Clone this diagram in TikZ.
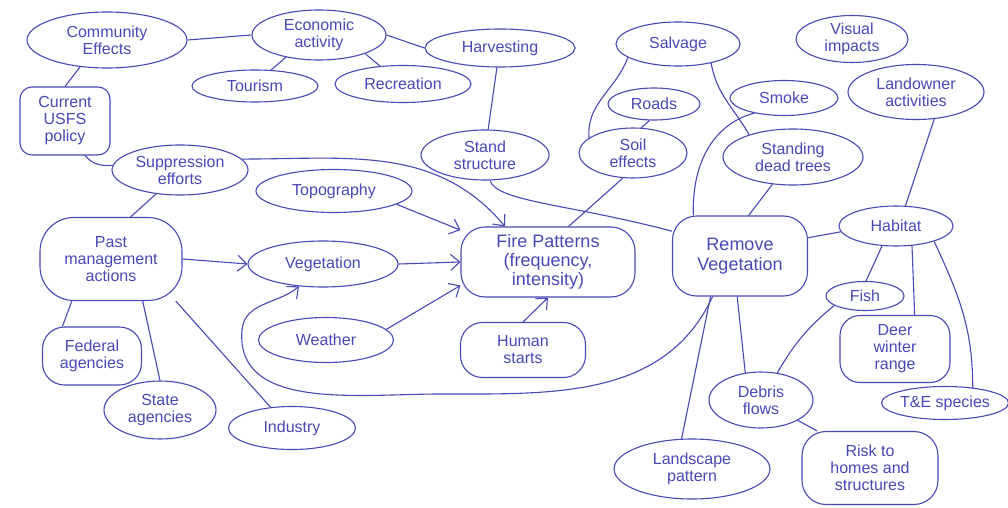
\documentclass[tikz,border=0pt]{standalone}
\usepackage{fontspec}
\setmainfont{Liberation Sans}
\usepackage{tikz}
\usepackage{xcolor}
\usetikzlibrary{positioning}
\usetikzlibrary{shapes.geometric,arrows.meta}

\definecolor{ink}{RGB}{72,72,182}

\tikzset{
    oval/.style={ellipse, draw=ink, line width=1.1pt, inner sep=0pt, align=center,
        text=ink, font=\fontsize{16}{17}\selectfont},
    blob/.style={rectangle, rounded corners=18pt, draw=ink, line width=1.1pt, inner sep=0pt,
        align=center, text=ink, font=\fontsize{16}{17}\selectfont},
    link/.style={draw=ink, line width=1.1pt},
    flow/.style={link, -{Straight Barb[length=9pt,width=16pt]}}
}

\begin{document}
\begin{tikzpicture}[x=1pt,y=-1pt]
        \useasboundingbox[fill=white] (0,0) rectangle (1008,508);

        \node[oval, minimum width=160, minimum height=56] (community) at (107,40) {Community\\Effects};
        \node[oval, minimum width=134, minimum height=50] (economic) at (319,35) {Economic\\activity};
        \node[oval, minimum width=150, minimum height=38] (harvesting) at (500,48) {Harvesting};
        \node[oval, minimum width=126, minimum height=32] (tourism) at (255,86) {Tourism};
        \node[oval, minimum width=136, minimum height=37] (recreation) at (403,84) {Recreation};
        \node[blob, rounded corners=12pt, minimum width=90, minimum height=68] (usfs) at (65,121) {Current\\USFS\\policy};
        \node[oval, minimum width=136, minimum height=50] (suppression) at (180,170) {Suppression\\efforts};
        \node[oval, minimum width=156, minimum height=43] (topography) at (334,191) {Topography};
        \node[oval, minimum width=128, minimum height=50] (stand) at (485,155) {Stand\\structure};
        \node[oval, minimum width=124, minimum height=44] (salvage) at (678,44) {Salvage};
        \node[oval, minimum width=92, minimum height=32] (roads) at (654,104) {Roads};
        \node[oval, minimum width=108, minimum height=50] (soil) at (633,153) {Soil\\effects};
        \node[oval, minimum width=108, minimum height=35] (smoke) at (784,98) {Smoke};
        \node[oval, minimum width=140, minimum height=56] (standing) at (793,157) {Standing\\dead trees};
        \node[oval, minimum width=112, minimum height=47] (visual) at (852,39) {Visual\\impacts};
        \node[oval, minimum width=136, minimum height=55] (landowner) at (916,92) {Landowner\\activities};

        \node[blob, rounded corners=24pt, minimum width=174, minimum height=70, font=\fontsize{18}{19}\selectfont] (fire) at (548,262) {Fire Patterns\\(frequency,\\intensity)};
        \node[blob, rounded corners=24pt, minimum width=135, minimum height=80, font=\fontsize{18}{20}\selectfont] (remove) at (740,256) {Remove\\Vegetation};
        \node[oval, minimum width=114, minimum height=40] (habitat) at (896,226) {Habitat};
        \node[oval, minimum width=78, minimum height=29] (fish) at (865,296) {Fish};
        \node[blob, rounded corners=20pt, minimum width=110, minimum height=67] (deer) at (895,349) {Deer\\winter\\range};
        \node[oval, minimum width=126, minimum height=33] (te) at (945,403) {T\&E species};
        \node[oval, minimum width=104, minimum height=56] (debris) at (761,400) {Debris\\flows};
        \node[blob, rounded corners=24pt, minimum width=136, minimum height=73] (risk) at (870,468) {Risk to\\homes and\\structures};
        \node[oval, minimum width=156, minimum height=60] (landscape) at (692,469) {Landscape\\pattern};

        \node[blob, rounded corners=34pt, minimum width=142, minimum height=83] (past) at (111,259) {Past\\management\\actions};
        \node[oval, minimum width=150, minimum height=46] (vegetation) at (323,264) {Vegetation};
        \node[oval, minimum width=135, minimum height=45] (weather) at (326,340) {Weather};
        \node[blob, rounded corners=22pt, minimum width=125, minimum height=55] (human) at (523,350) {Human\\starts};
        \node[blob, rounded corners=22pt, minimum width=99, minimum height=58] (federal) at (92,356) {Federal\\agencies};
        \node[oval, minimum width=112, minimum height=58] (state) at (160,410) {State\\agencies};
        \node[oval, minimum width=127, minimum height=43] (industry) at (292,428) {Industry};

        \draw[link] (community.east) -- (economic.west);
        \draw[link] (economic.214) -- (tourism.45);
        \draw[link] (economic.-22) -- (recreation.142);
        \draw[link] (economic.east) -- (harvesting.west);
        \draw[link] (harvesting.-99) -- (stand.83);
        \draw[link] (community.225) -- (usfs.north);
        \draw[link] (usfs.-60) to[out=-50,in=185] (suppression.176);
        \draw[link] (suppression.225) -- (past.65);
        \draw[flow] (suppression.10) to[out=0,in=130] ([xshift=-43pt]fire.north);

        \draw[flow] (topography.-12) -- (fire.160);
        \draw[flow] (vegetation.east) -- (fire.west);
        \draw[flow] (weather.10) -- (fire.195);
        \draw[flow] (human.north) -- (fire.south);
        \draw[flow] (past.east) -- (vegetation.west);
        \draw[flow] (remove.236) to[out=-115,in=0] (440,394) to[out=180,in=-95] (242,330) to[out=85,in=-140] (vegetation.223);

        \draw[link] (stand.-79) .. controls (497,202) and (570,204) .. (remove.160);
        \draw[link] (soil.-112) -- (fire.60);
        \draw[link] (roads.-105) -- (soil.72);
        \draw[link] (salvage.195) to[out=-110,in=95] (soil.161);
        \draw[link] (salvage.-30) to[out=-80,in=120] (standing.153);
        \draw[link] (smoke.207) to[out=195,in=92] (remove.139);
        \draw[link] (standing.233) -- (remove.78);
        \draw[link] (landowner.-56) -- (habitat.65);
        \draw[link] (remove.15) -- (habitat.186);
        \draw[link] (habitat.235) -- (fish.86);
        \draw[link] (habitat.-51) -- (deer.60);
        \draw[link] (habitat.-22) to[out=-65,in=90] (te.29);
        \draw[link] (fish.197) to[out=-140,in=60] (debris.59);
        \draw[link] (remove.-94) -- (debris.120);
        \draw[link] (remove.234) -- (landscape.109);
        \draw[link] (debris.-29) -- (risk.145);

        \draw[link] (past.227) -- (federal.135);
        \draw[link] (past.-53) -- (state.90);
        \draw[link] (past.-33) -- (industry.136);
    \end{tikzpicture}
\end{document}
